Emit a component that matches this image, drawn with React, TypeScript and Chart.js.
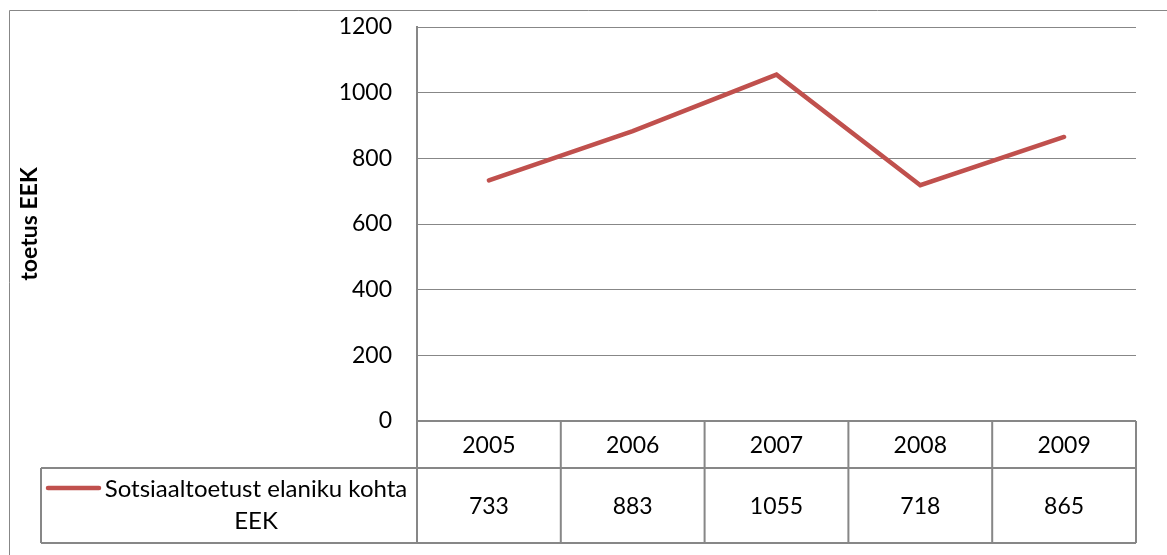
import React, { useEffect, useRef } from "react";
import { Chart, registerables } from "chart.js";

Chart.register(...registerables);

const years = ["2005", "2006", "2007", "2008", "2009"];
const values = [733, 883, 1055, 718, 865];
const seriesLabelLines = ["Sotsiaaltoetust elaniku kohta", "EEK"];
const yTitle = "toetus EEK";
const yMin = 0;
const yMax = 1200;
const yStep = 200;

const FONT = "Lato, 'Open Sans', 'DejaVu Sans', sans-serif";
const GRAY = "#878787";
const RED = "#C0504D";
const W = 1167;
const H = 555;

const tablePlugin = {
  id: "dataTable",
  afterDraw(chart: any) {
    const { ctx, chartArea } = chart;
    const xs = chart.scales.x;
    const left = chartArea.left;
    const right = chartArea.right;
    const top = chartArea.bottom;
    const headerBottom = top + 47;
    const rowBottom = top + 122;
    const legendLeft = 41;
    const n = years.length;
    const colW = (right - left) / n;

    ctx.save();
    // frame
    ctx.strokeStyle = GRAY;
    ctx.lineWidth = 1;
    ctx.beginPath();
    ctx.moveTo(9.5, H);
    ctx.lineTo(9.5, 10.5);
    ctx.lineTo(W, 10.5);
    ctx.stroke();

    // table grid
    ctx.lineWidth = 2;
    ctx.beginPath();
    ctx.moveTo(left, top);
    ctx.lineTo(right, top);
    ctx.moveTo(legendLeft, headerBottom);
    ctx.lineTo(right, headerBottom);
    ctx.moveTo(legendLeft, rowBottom);
    ctx.lineTo(right, rowBottom);
    ctx.moveTo(legendLeft, headerBottom);
    ctx.lineTo(legendLeft, rowBottom);
    for (let i = 0; i <= n; i++) {
      const xi = left + i * colW;
      ctx.moveTo(xi, top);
      ctx.lineTo(xi, rowBottom);
    }
    ctx.stroke();

    // texts
    ctx.fillStyle = "#000";
    ctx.font = `23px ${FONT}`;
    ctx.textAlign = "center";
    ctx.textBaseline = "middle";
    years.forEach((y, i) => {
      const cx = xs.getPixelForValue(i);
      ctx.fillText(y, cx, (top + headerBottom) / 2 + 1);
      ctx.fillText(String(values[i]), cx, (headerBottom + rowBottom) / 2 + 1);
    });

    // legend key
    ctx.strokeStyle = RED;
    ctx.lineWidth = 4.5;
    ctx.lineCap = "round";
    ctx.beginPath();
    ctx.moveTo(48, headerBottom + 20);
    ctx.lineTo(99, headerBottom + 20);
    ctx.stroke();

    ctx.fillStyle = "#000";
    ctx.font = `24px ${FONT}`;
    seriesLabelLines.forEach((t, i) => {
      ctx.fillText(t, 256, headerBottom + 21 + i * 32);
    });
    ctx.restore();
  },
};

export default function App() {
  const ref = useRef<HTMLCanvasElement | null>(null);

  useEffect(() => {
    if (!ref.current) return;
    const chart = new Chart(ref.current, {
      type: "line",
      data: {
        labels: years,
        datasets: [
          {
            label: seriesLabelLines.join(" "),
            data: values,
            borderColor: RED,
            backgroundColor: RED,
            borderWidth: 4.5,
            pointRadius: 0,
            tension: 0,
            borderCapStyle: "round",
          },
        ],
      },
      options: {
        animation: false,
        responsive: false,
        devicePixelRatio: 1,
        layout: { padding: { left: 0, top: 27, right: 31, bottom: 134 } },
        plugins: {
          legend: { display: false },
          tooltip: { enabled: false },
        },
        scales: {
          x: {
            type: "category",
            offset: true,
            display: false,
            grid: { display: false },
          },
          y: {
            min: yMin,
            max: yMax,
            ticks: {
              stepSize: yStep,
              padding: 25,
              color: "#000",
              font: { family: FONT, size: 23 },
              callback: (v: any) => String(v),
            },
            grid: { color: GRAY, lineWidth: 1, drawTicks: false },
            border: { display: true, color: GRAY, width: 2 },
            title: {
              display: true,
              text: yTitle,
              color: "#000",
              font: { family: FONT, size: 23, weight: "bold" },
              padding: { top: 16, bottom: 0 },
            },
            afterFit(scale: any) {
              scale.width = 417;
              scale.paddingTop = 0;
              scale.paddingBottom = 0;
            },
          },
        },
      },
      plugins: [tablePlugin],
    });
    return () => chart.destroy();
  }, []);

  return (
    <div
      style={{
        position: "fixed",
        left: 0,
        top: 0,
        width: W,
        height: H,
        overflow: "hidden",
        background: "#fff",
      }}
    >
      <canvas ref={ref} width={W} height={H} style={{ display: "block", width: W, height: H }} />
    </div>
  );
}
